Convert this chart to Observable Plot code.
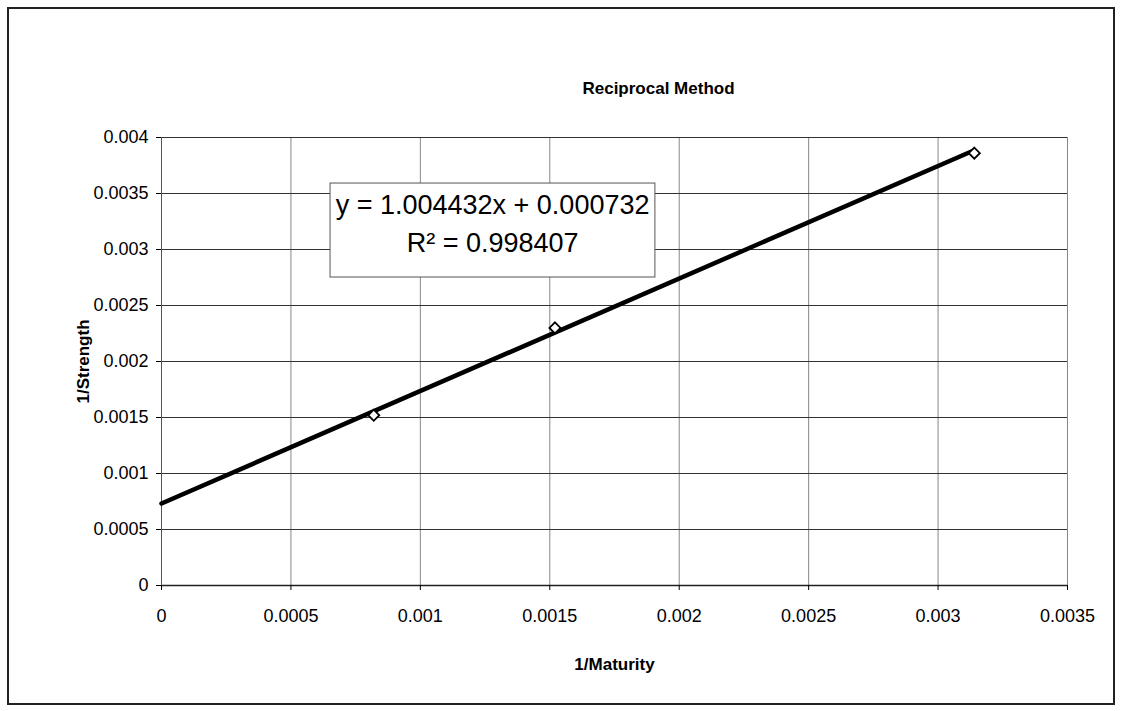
<!DOCTYPE html>
<html>
<head>
<meta charset="utf-8">
<script src="https://cdn.jsdelivr.net/npm/d3@7"></script>
<script src="https://cdn.jsdelivr.net/npm/@observablehq/plot@0.6"></script>
<style>
  html, body { margin: 0; padding: 0; background: #fff; }
  #wrap { position: relative; width: 1121px; height: 711px; }
  #border { position: absolute; left: 7px; top: 7px; width: 1104px; height: 694px; border: 2px solid #222; pointer-events: none; }
  #wrap svg { position: absolute; left: 0; top: 0; }
</style>
</head>
<body>
<div id="wrap"><div id="border"></div></div>
<script>
// Data
const maturityInv = [0.00082, 0.00152, 0.00314];
const strengthInv = [0.00152, 0.00230, 0.00386];
// Trendline (from displayed equation) endpoints
const trendX = [0, 0.00314];
const trendY = [0.000732, 0.003886];
// Ticks
const xTicks = [0, 0.0005, 0.001, 0.0015, 0.002, 0.0025, 0.003, 0.0035];
const yTicks = [0, 0.0005, 0.001, 0.0015, 0.002, 0.0025, 0.003, 0.0035, 0.004];
const xTickLabels = ["0", "0.0005", "0.001", "0.0015", "0.002", "0.0025", "0.003", "0.0035"];
const yTickLabels = ["0", "0.0005", "0.001", "0.0015", "0.002", "0.0025", "0.003", "0.0035", "0.004"];
// Text
const title = "Reciprocal Method";
const xTitle = "1/Maturity";
const yTitle = "1/Strength";
const eqLines = ["y = 1.004432x + 0.000732", "R\u00B2 = 0.998407"];
// Annotation box placement (data units)
const eqBox = [{x1: 0.000653, x2: 0.001908, y1: 0.00275, y2: 0.003589}];
const eqTextX = [0.001279, 0.001279];
const eqTextY = [0.003393, 0.003054];

const points = maturityInv.map((x, i) => ({x, y: strengthInv[i]}));
const trend = trendX.map((x, i) => ({x, y: trendY[i]}));
const eq = eqLines.map((t, i) => ({t, x: eqTextX[i], y: eqTextY[i]}));

const chart = Plot.plot({
  width: 1121,
  height: 711,
  marginLeft: 161,
  marginRight: 54,
  marginTop: 137,
  marginBottom: 126,
  style: {fontFamily: "'Liberation Sans', Arial, sans-serif", fontSize: "18px", color: "#000", background: "transparent"},
  x: {domain: [0, 0.0035]},
  y: {domain: [0, 0.004]},
  marks: [
    Plot.gridX(xTicks, {stroke: "#888", strokeOpacity: 1, strokeWidth: 1}),
    Plot.gridY(yTicks, {stroke: "#333", strokeOpacity: 1, strokeWidth: 1}),
    Plot.ruleY([0], {stroke: "#222", strokeWidth: 1.5}),
    Plot.ruleX([0], {stroke: "#555", strokeWidth: 1}),
    Plot.axisX({ticks: xTicks, tickFormat: (d, i) => xTickLabels[i], tickSize: 5, tickPadding: 19, label: null, fontSize: 18}),
    Plot.axisY({ticks: yTicks, tickFormat: (d, i) => yTickLabels[i], tickSize: 5, tickPadding: 8, label: null, fontSize: 18}),
    Plot.line(trend, {x: "x", y: "y", stroke: "#000", strokeWidth: 4.5}),
    Plot.dot(points, {x: "x", y: "y", symbol: "diamond2", r: 5, fill: "#fff", stroke: "#000", strokeWidth: 1.8}),
    Plot.rect(eqBox, {x1: "x1", x2: "x2", y1: "y1", y2: "y2", fill: "#fff", stroke: "#555", strokeWidth: 1}),
    Plot.text(eq, {x: "x", y: "y", text: "t", fontSize: 27, fill: "#000"}),
    Plot.text([title], {text: d => d, frameAnchor: "top", dy: -56, dx: 44, fontSize: 17, fontWeight: "bold"}),
    Plot.text([xTitle], {text: d => d, frameAnchor: "bottom", dy: 84, fontSize: 17, fontWeight: "bold"}),
    Plot.text([yTitle], {text: d => d, frameAnchor: "left", dx: -78, rotate: -90, textAnchor: "middle", fontSize: 17, fontWeight: "bold"})
  ]
});
document.getElementById("wrap").appendChild(chart);
</script>
</body>
</html>
